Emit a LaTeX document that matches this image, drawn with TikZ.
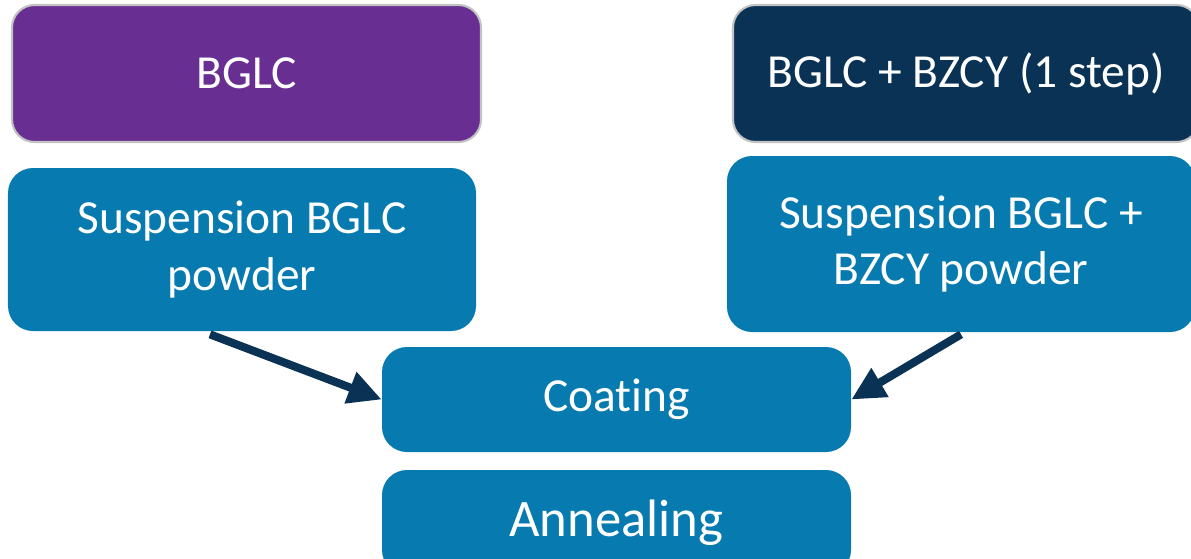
\documentclass[tikz,border=0pt]{standalone}
\usepackage{fontspec}
\setmainfont{Carlito}[Ligatures=NoCommon]
\usetikzlibrary{arrows.meta,calc}
\definecolor{cpurple}{RGB}{104,46,145}
\definecolor{cnavy}{RGB}{9,50,85}
\definecolor{cblue}{RGB}{7,122,176}
\definecolor{cgray}{RGB}{195,195,195}
\tikzset{
  box/.style={rectangle, rounded corners=0.45cm, inner sep=0pt, align=center, text=white,
    font=\fontsize{27}{32}\selectfont},
  topbox/.style={box, draw=cgray, line width=1.2pt},
  stepbox/.style={box, fill=cblue, draw=none, rounded corners=0.5cm},
  arr/.style={draw=cnavy, line width=4.6pt, -{Triangle[length=19pt,width=18pt]}},
}
\begin{document}
\begin{tikzpicture}
\useasboundingbox (0,0) rectangle (23.82,-11.16);
\clip (0,0) rectangle (23.82,-11.16);
\node[topbox, fill=cpurple, minimum width=9.38cm, minimum height=2.74cm] (bglc) at (4.93,-1.47) {BGLC};
\node[topbox, fill=cnavy, minimum width=9.32cm, minimum height=2.74cm] (bzcy) at (19.32,-1.47) {BGLC + BZCY (1 step)};
\node[stepbox, minimum width=9.36cm, minimum height=3.26cm] (sl) at (4.84,-4.99) {Suspension BGLC\\powder};
\node[stepbox, minimum width=9.36cm, minimum height=3.52cm] (sr) at (19.22,-4.88) {Suspension BGLC +\\BZCY powder};
\node[stepbox, minimum width=9.38cm, minimum height=2.10cm] (coat) at (12.33,-7.99) {Coating};
\node[stepbox, minimum width=9.38cm, minimum height=2.10cm, font=\fontsize{30}{36}\selectfont] (anneal) at (12.33,-10.45) {Annealing};
\draw[arr] ([xshift=-0.64cm,yshift=-0.06cm]sl.south) -- (coat.west);
\draw[arr] ([yshift=-0.04cm]sr.south) -- (coat.east);
\end{tikzpicture}
\end{document}
